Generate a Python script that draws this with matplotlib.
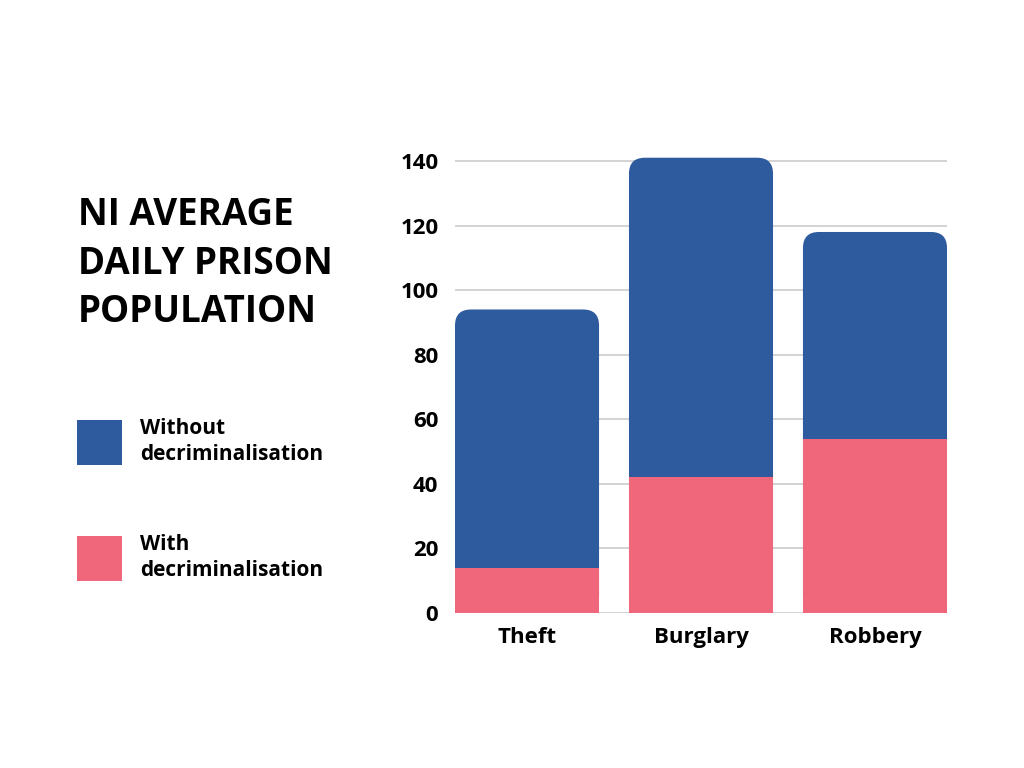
import matplotlib
matplotlib.use("Agg")
import matplotlib.pyplot as plt
from matplotlib.patches import FancyBboxPatch, Rectangle

categories = ["Theft", "Burglary", "Robbery"]
without_decrim = [94, 141, 118]
with_decrim = [14, 42, 54]
yticks = [0, 20, 40, 60, 80, 100, 120, 140]

BLUE = "#2E5A9E"
PINK = "#F0667B"
GRID = "#CCCCCC"
FONT = ["Open Sans", "DejaVu Sans"]

fig = plt.figure(figsize=(10.24, 7.68), dpi=100)
ax = fig.add_axes([455/1024, 1-613/768, (947-455)/1024, (613-144.8)/768])

width = 0.828
ymax = 145
ax.set_xlim(-width/2, len(categories)-1+width/2)
ax.set_ylim(0, ymax)

# pixel scales for rounded corners
ax_w_px = (947-455)
ax_h_px = (613-144.8)
px_per_x = ax_w_px / (len(categories)-1+width)
px_per_y = ax_h_px / ymax
r_px = 16
r_x = r_px / px_per_x
aspect = (r_px / px_per_y) / r_x

for i, (wo, wi) in enumerate(zip(without_decrim, with_decrim)):
    p = FancyBboxPatch((i - width/2, 0), width, wo,
                       boxstyle=f"round,pad=0,rounding_size={r_x}",
                       mutation_aspect=aspect, facecolor=BLUE, edgecolor="none", zorder=3)
    ax.add_patch(p)
    ax.add_patch(Rectangle((i - width/2, 0), width, wi, facecolor=PINK, edgecolor="none", zorder=4))

ax.set_yticks(yticks)
ax.set_yticklabels([str(t) for t in yticks], fontsize=16, fontweight="bold", family=FONT)
ax.set_xticks(range(len(categories)))
ax.set_xticklabels(categories, fontsize=16, fontweight="bold", family=FONT)
ax.tick_params(axis="y", length=0, pad=12)
ax.tick_params(axis="x", length=0, pad=10)
ax.yaxis.grid(True, color=GRID, linewidth=1.2, zorder=0)
ax.set_axisbelow(True)
for s in ax.spines.values():
    s.set_visible(False)

# Title (va='baseline' anchors the last line's baseline)
fig.text(78/1024, 1-322/768, "NI AVERAGE\nDAILY PRISON\nPOPULATION", fontsize=26.5, fontweight="bold",
         family=FONT, ha="left", va="baseline", linespacing=1.36, color="black")

# Legend
fig.add_artist(Rectangle((77/1024, 1-465/768), 45/1024, 45/768, transform=fig.transFigure,
                         facecolor=BLUE, edgecolor="none"))
fig.add_artist(Rectangle((77/1024, 1-581/768), 45/1024, 45/768, transform=fig.transFigure,
                         facecolor=PINK, edgecolor="none"))
fig.text(140/1024, 1-460/768, "Without\ndecriminalisation", fontsize=15, fontweight="bold",
         family=FONT, ha="left", va="baseline", linespacing=1.33)
fig.text(140/1024, 1-576/768, "With\ndecriminalisation", fontsize=15, fontweight="bold",
         family=FONT, ha="left", va="baseline", linespacing=1.33)

fig.savefig("out.png", dpi=100, facecolor="white")
